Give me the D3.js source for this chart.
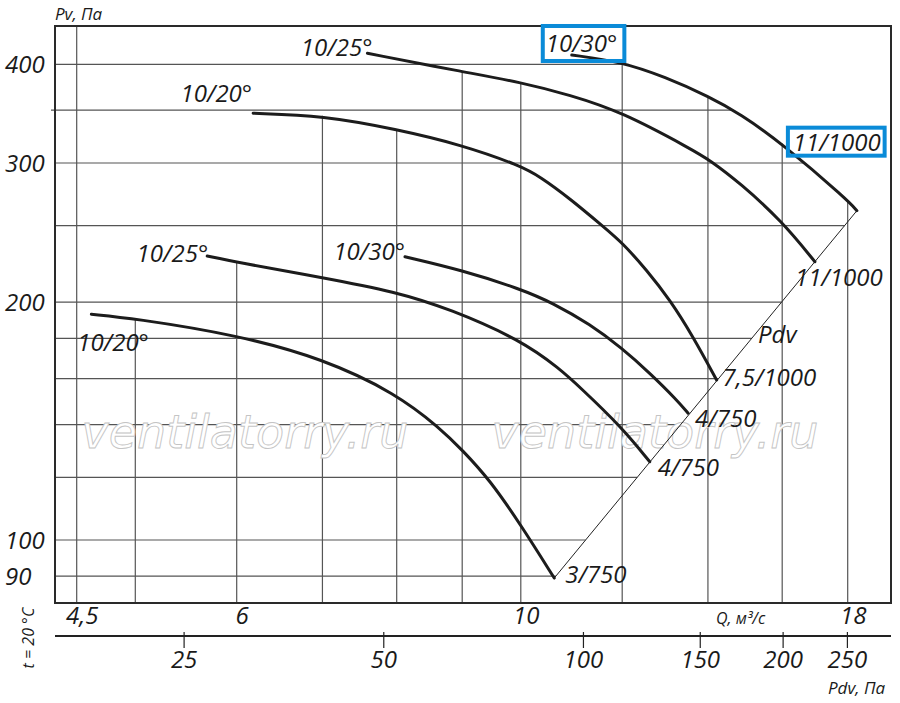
<!DOCTYPE html>
<html><head><meta charset="utf-8">
<script src="https://cdn.jsdelivr.net/npm/d3@7"></script>
<style>
html,body{margin:0;padding:0;background:#fff;}
svg{display:block;}
text{font-family:"Open Sans",sans-serif;font-style:italic;fill:#1a1a1a;}
</style></head><body>
<svg id="chart" width="900" height="703"></svg>
<script>
// ---------------- data ----------------
const pressureGrid = [90, 100, 120, 140, 160, 180, 200, 250, 300, 350, 400];
const pressureLabels = [90, 100, 200, 300, 400];
const flowGrid = [4.5, 5, 6, 7, 8, 9, 10, 12, 14, 16, 18];
const flowGridClip = [null, "A", "B", "D", "D", "E", "E", "F", "F", "F", "F"];
const flowLabels = [4.5, 6, 10, 18];
const dynTicks = [25, 50, 100, 150, 200, 250];
const watermarkText = "ventilatorry.ru";

// [Q m3/s, Pv Pa]
const curveA = [[4.62,193.1],[4.98,190.8],[6.0,181.8],[7.01,169.6],[7.99,153.3],[8.65,138.5],[9.0,130.0],[9.46,119.1],[10.0,104.5],[10.62,89.5]];
const curveB = [[5.69,228.8],[6.0,224.6],[7.01,214.8],[7.98,206.2],[8.80,196.1],[10.0,179.1],[10.73,164.6],[11.12,156.1],[11.98,139.1],[12.61,125.6]];
const curveC = [[8.12,228.3],[8.99,219.6],[10.0,207.8],[10.6,199.4],[11.32,187.6],[11.99,175.0],[12.61,162.7],[13.24,150.4],[13.51,144.7]];
const curveD = [[6.18,346.8],[7.01,344.4],[7.99,331.1],[9.0,316.2],[10.0,297.5],[10.35,288.3],[10.92,270.6],[11.6,249.2],[12.0,237.9],[12.54,219.6],[13.08,201.2],[13.63,180.9],[14.22,159.4]];
const curveE = [[7.59,413.0],[9.0,391.5],[10.0,379.6],[10.92,365.8],[11.98,348.5],[13.63,311.5],[14.04,302.7],[14.84,282.8],[15.99,253.3],[16.97,225.0]];
const curveF = [[10.96,411.0],[11.98,403.0],[12.96,385.5],[14.04,363.9],[14.84,346.1],[15.99,317.8],[18.0,269.3],[18.3,261.1]];

const startLabels = ["10/20°", "10/25°", "10/30°", "10/20°", "10/25°", "10/30°"];
const endLabels = ["3/750", "4/750", "4/750", "7,5/1000", "11/1000", "11/1000"];

// ---------------- layout ----------------
const svg = d3.select("#chart");
const frame = {l: 55, r: 891, t: 26, b: 603};
const x = d3.scaleLog().domain([4.5, 18]).range([76.7, 847.7]);
const y = d3.scaleLog().domain([100, 400]).range([540, 64.3]);
const xd = d3.scaleLog().domain([25, 250]).range([183.6, 846.9]);
const curves = {A: curveA, B: curveB, C: curveC, D: curveD, E: curveE, F: curveF};
const curveList = [curveA, curveB, curveC, curveD, curveE, curveF];

const L = Math.log10;
function pAt(c, q) {
  if (q <= c[0][0]) return c[0][1];
  for (let i = 0; i < c.length - 1; i++) {
    if (q >= c[i][0] && q <= c[i+1][0]) {
      const t = (L(q) - L(c[i][0])) / (L(c[i+1][0]) - L(c[i][0]));
      return Math.pow(10, L(c[i][1]) + t * (L(c[i+1][1]) - L(c[i][1])));
    }
  }
  return c[c.length-1][1];
}
function qAt(c, p) {
  if (p >= c[0][1]) return c[0][0];
  for (let i = 0; i < c.length - 1; i++) {
    if (p <= c[i][1] && p >= c[i+1][1]) {
      const t = (L(p) - L(c[i][1])) / (L(c[i+1][1]) - L(c[i][1]));
      return Math.pow(10, L(c[i][0]) + t * (L(c[i+1][0]) - L(c[i][0])));
    }
  }
  return c[c.length-1][0];
}

const aEnd = curveA[curveA.length-1], fEnd = curveF[curveF.length-1];
const xa = x(aEnd[0]), ya = y(aEnd[1]), xf = x(fEnd[0]), yf = y(fEnd[1]);

// ---------------- grid ----------------
const grid = svg.append("g").attr("stroke", "#555").attr("stroke-width", 1.2);
flowGrid.forEach((q, i) => {
  const clip = flowGridClip[i];
  const top = clip ? y(pAt(curves[clip], q)) : frame.t;
  grid.append("line").attr("x1", x(q)).attr("x2", x(q)).attr("y1", top).attr("y2", frame.b);
});
pressureGrid.forEach(p => {
  const yy = y(p);
  let xr;
  if (p <= fEnd[1]) xr = xa + (yy - ya) * (xf - xa) / (yf - ya);
  else xr = x(qAt(curveF, p));
  grid.append("line").attr("x1", p === 350 ? frame.l - 4 : frame.l).attr("x2", xr).attr("y1", yy).attr("y2", yy);
});

// ---------------- watermark ----------------
[245, 655].forEach(cx => {
  svg.append("text").attr("x", cx).attr("y", 448).attr("text-anchor", "middle")
    .style("font-family", "'DejaVu Sans', sans-serif").style("font-style", "oblique")
    .attr("font-size", 46).style("fill", "#fff").attr("stroke", "#c4c4c4").attr("stroke-width", 0.9)
    .text(watermarkText);
});

// ---------------- diagonal (Pdv) ----------------
svg.append("line").attr("x1", xa).attr("y1", ya).attr("x2", xf).attr("y2", yf)
  .attr("stroke", "#222").attr("stroke-width", 1);

// ---------------- curves ----------------
const line = d3.line().x(d => x(d[0])).y(d => y(d[1])).curve(d3.curveBasis);
svg.append("g").selectAll("path").data(curveList).join("path")
  .attr("d", line).attr("fill", "none").attr("stroke", "#1c1c1c").attr("stroke-width", 3)
  .attr("stroke-linecap", "round");

// ---------------- curve labels ----------------
const startOff = [
  {dx: -14, dy: 37, a: "start"}, {dx: 1, dy: 6, a: "end"}, {dx: 0, dy: 3, a: "end"},
  {dx: -1, dy: -11, a: "end"}, {dx: 5, dy: 3, a: "end"}, {dx: -26, dy: -3, a: "start"}
];
const endOff = [
  {dx: 11, dy: 5}, {dx: 8, dy: 14}, {dx: 7, dy: 14}, {dx: 6, dy: 6}, {dx: -20, dy: 24}, {dx: -64, dy: -60}
];
const lab = svg.append("g").attr("font-size", 24);
const boxed = [];
curveList.forEach((c, i) => {
  const s = c[0], e = c[c.length-1];
  const ts = lab.append("text").attr("x", x(s[0]) + startOff[i].dx).attr("y", y(s[1]) + startOff[i].dy)
    .attr("text-anchor", startOff[i].a).text(startLabels[i]);
  const te = lab.append("text").attr("x", x(e[0]) + endOff[i].dx).attr("y", y(e[1]) + endOff[i].dy)
    .text(endLabels[i]);
  if (i === 5) { boxed.push(ts); boxed.push(te); }
});
// Pdv label along the diagonal
const tP = 0.66;
lab.append("text").attr("x", xa + tP * (xf - xa) + 4).attr("y", ya + tP * (yf - ya) + 7).text("Pdv");

// ---------------- axes ----------------
const fmt = d => String(d).replace(".", ",");
const gy = svg.append("g").call(d3.axisLeft(y).tickValues(pressureLabels).tickSize(0).tickFormat(fmt));
gy.select(".domain").remove();
gy.attr("font-size", 24).attr("font-family", null).attr("text-anchor", "start");
gy.selectAll("text").attr("x", 5).attr("dy", "0.36em").style("fill", "#1a1a1a");

const gx = svg.append("g").attr("transform", `translate(0,${frame.b})`)
  .call(d3.axisBottom(x).tickValues(flowLabels).tickSize(0).tickFormat(fmt));
gx.select(".domain").remove();
gx.attr("font-size", 24).attr("font-family", null);
gx.selectAll("text").attr("y", 21).attr("dy", 0).attr("dx", 5).style("fill", "#1a1a1a");

const axY2 = 636;
svg.append("line").attr("x1", frame.l).attr("x2", frame.r).attr("y1", axY2).attr("y2", axY2)
  .attr("stroke", "#222").attr("stroke-width", 2);
const gd = svg.append("g").attr("transform", `translate(0,${axY2})`)
  .call(d3.axisBottom(xd).tickValues(dynTicks).tickSizeInner(12).tickSizeOuter(0));
gd.select(".domain").remove();
gd.attr("font-size", 24).attr("font-family", null);
gd.selectAll(".tick line").attr("y1", -4).attr("stroke", "#222").attr("stroke-width", 1.2);
gd.selectAll("text").attr("y", 32).attr("dy", 0).attr("dx", 0).style("fill", "#1a1a1a");

// titles
svg.append("text").attr("x", 55).attr("y", 20).attr("font-size", 17).text("Pv, Па");
svg.append("text").attr("x", 716).attr("y", 624).attr("font-size", 16).text("Q, м³/с");
svg.append("text").attr("x", 828).attr("y", 694).attr("font-size", 17).text("Pdv, Па");
svg.append("text").attr("transform", "translate(34,638) rotate(-90)").attr("text-anchor", "middle")
  .attr("font-size", 16).text("t = 20 °C");

// ---------------- frame ----------------
svg.append("rect").attr("x", frame.l).attr("y", frame.t).attr("width", frame.r - frame.l)
  .attr("height", frame.b - frame.t).attr("fill", "none").attr("stroke", "#2a2a2a").attr("stroke-width", 2);

// ---------------- highlight boxes ----------------
const pads = [{l: 3, r: 7, t: 0, b: 2}, {l: 5, r: 4, t: -3, b: -2}];
boxed.forEach((t, i) => {
  const bb = t.node().getBBox();
  const p = pads[i];
  svg.append("rect").attr("x", bb.x - p.l).attr("y", bb.y - p.t)
    .attr("width", bb.width + p.l + p.r).attr("height", bb.height + p.t + p.b)
    .attr("fill", "none").attr("stroke", "#0a8bd8").attr("stroke-width", 4);
});
</script>
</body></html>
